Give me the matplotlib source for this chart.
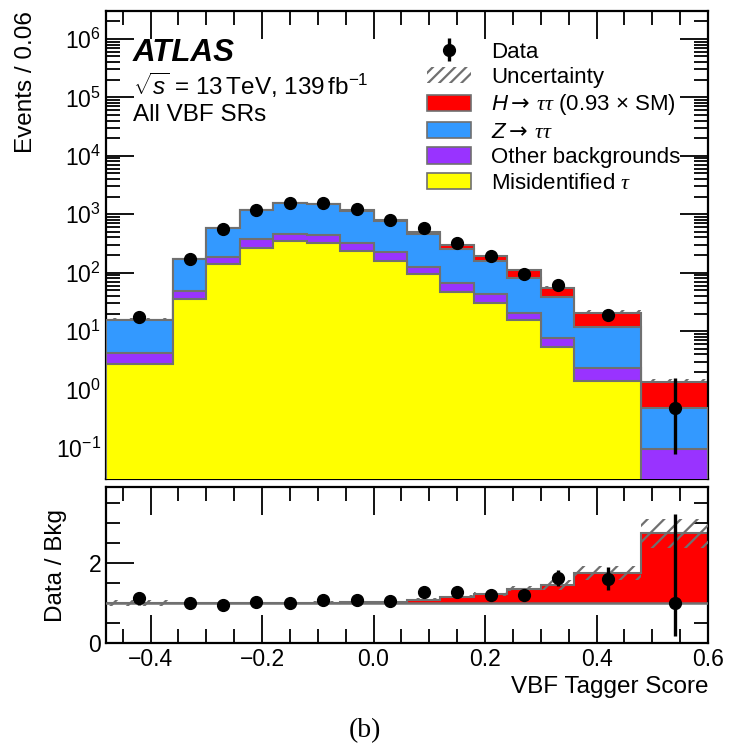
import numpy as np
import matplotlib.pyplot as plt
from matplotlib.patches import Patch
from matplotlib.ticker import MultipleLocator, LogLocator, NullFormatter

plt.rcParams['font.family'] = ['Liberation Sans', 'DejaVu Sans']
plt.rcParams['mathtext.fontset'] = 'custom'
plt.rcParams['mathtext.rm'] = 'Liberation Sans'
plt.rcParams['mathtext.it'] = 'Liberation Sans:italic'
plt.rcParams['mathtext.bf'] = 'Liberation Sans:bold'
plt.rcParams['mathtext.sf'] = 'Liberation Serif:italic'  # tau glyphs
plt.rcParams['mathtext.tt'] = 'DejaVu Sans'  # full-size arrows
plt.rcParams['hatch.linewidth'] = 1.6

# binning of the VBF tagger score
edges = np.array([-0.48, -0.36, -0.30, -0.24, -0.18, -0.12, -0.06, 0.00,
                  0.06, 0.12, 0.18, 0.24, 0.30, 0.36, 0.48, 0.60])

# per-bin yields
misid = np.array([2.69, 35, 138, 269, 346, 328, 236, 159, 94, 46.7, 30.2, 15.7, 5.3, 1.39, 0.0])
other = np.array([1.5, 13, 44, 101, 110, 109, 92, 67, 31, 21, 13.5, 4.7, 2.4, 0.93, 0.098])
ztt = np.array([11.4, 122, 403, 795, 1074, 1035, 822, 544, 335, 191.4, 115.3, 60.6, 30.6, 9.38, 0.387])
htt = np.array([0.08, 1, 3, 6, 10, 14, 15, 22, 37, 40, 35, 29, 17.2, 8.8, 0.845])
unc = np.array([0.07, 0.03, 0.03, 0.03, 0.03, 0.03, 0.03, 0.03, 0.03, 0.035, 0.04, 0.05, 0.085, 0.105, 0.13])

data = np.array([17.4, 170, 555, 1190, 1530, 1570, 1250, 810, 585, 328, 191, 96.5, 62.5, 18.8, 0.48])
data_up = np.array([2.6, 9, 15, 22, 26, 26, 23, 19, 16, 12, 9, 6.5, 7.7, 3.3, 1.08])
data_dn = np.array([2.6, 9, 15, 22, 26, 26, 23, 19, 16, 12, 9, 6.5, 7.7, 3.3, 0.40])

c_misid = '#ffff00'
c_other = '#9933ff'
c_ztt = '#3399ff'
c_htt = '#ff0000'
c_edge = '#707070'

centers = 0.5 * (edges[1:] + edges[:-1])
bkg = misid + other + ztt
total = bkg + htt

fig = plt.figure(figsize=(7.29, 7.49), dpi=100)
ax = fig.add_axes([0.1454, 0.3605, 0.9712 - 0.1454, 0.9853 - 0.3605])
rax = fig.add_axes([0.1454, 0.1415, 0.9712 - 0.1454, 0.3498 - 0.1415], sharex=ax)

floor = 1e-3
# uncertainty band sits behind the stack
ax.stairs(total * (1 + unc), edges, baseline=total * (1 - unc), fill=True,
          facecolor='white', edgecolor=c_edge, hatch='//', linewidth=0, zorder=1)
stack = [(total, c_htt), (bkg, c_ztt), (misid + other, c_other), (misid, c_misid)]
for i, (vals, col) in enumerate(stack):
    ax.stairs(np.maximum(vals, floor), edges, baseline=floor, fill=True,
              facecolor=col, edgecolor=c_edge, linewidth=1.5, zorder=2 + i)

ax.errorbar(centers, data, yerr=[data_dn, data_up], fmt='o', color='black',
            markersize=8.5, elinewidth=2.4, capsize=0, zorder=10, label='Data')

ax.set_yscale('log')
ax.set_ylim(0.0295, 3e6)
ax.set_xlim(-0.48, 0.60)
ax.yaxis.set_major_locator(LogLocator(base=10, numticks=20))
ax.yaxis.set_minor_locator(LogLocator(base=10, subs=np.arange(2, 10), numticks=20))
ax.yaxis.set_minor_formatter(NullFormatter())
ax.set_ylabel('Events / 0.06', fontsize=17.5, loc='top')
plt.setp(ax.get_xticklabels(), visible=False)

ax.text(0.045, 0.91, 'ATLAS', transform=ax.transAxes, fontsize=22.5,
        fontweight='bold', fontstyle='italic', va='center')
ax.text(0.045, 0.842, r'$\sqrt{s}$ = 13$\,$TeV, 139$\,$fb$^{-1}$', transform=ax.transAxes,
        fontsize=17.5, va='center')
ax.text(0.045, 0.778, 'All VBF SRs', transform=ax.transAxes, fontsize=17.5, va='center')

handles = [
    ax.containers[0],
    Patch(facecolor='white', edgecolor=c_edge, hatch='///', linewidth=0),
    Patch(facecolor=c_htt, edgecolor=c_edge, linewidth=1.2),
    Patch(facecolor=c_ztt, edgecolor=c_edge, linewidth=1.2),
    Patch(facecolor=c_other, edgecolor=c_edge, linewidth=1.2),
    Patch(facecolor=c_misid, edgecolor=c_edge, linewidth=1.2),
]
labels = ['Data', 'Uncertainty',
          r'$H\mathtt{\rightarrow}\,\mathsf{\tau\tau}$ (0.93 $\times$ SM)',
          r'$Z\mathtt{\rightarrow}\,\mathsf{\tau\tau}$',
          'Other backgrounds',
          r'Misidentified $\mathsf{\tau}$']
ax.legend(handles, labels, loc='upper left', bbox_to_anchor=(0.507, 0.968),
          frameon=False, fontsize=16, handlelength=2.0, handleheight=0.75,
          handletextpad=0.9, labelspacing=0.2, borderpad=0.2)

# ratio panel
rtot = total / bkg
rax.stairs(rtot, edges, baseline=1.0, fill=True, facecolor=c_htt,
           edgecolor=c_edge, linewidth=1.5, zorder=2)
rax.axhline(1.0, color=c_edge, linewidth=1.8, zorder=3)
rax.stairs(rtot * (1 + unc), edges, baseline=rtot * (1 - unc), fill=False,
           hatch='//', edgecolor=c_edge, linewidth=0, zorder=4)
rax.errorbar(centers, data / bkg, yerr=[data_dn / bkg, data_up / bkg], fmt='o',
             color='black', markersize=8.5, elinewidth=2.4, capsize=0, zorder=10)
rax.set_ylim(0, 3.9)
rax.yaxis.set_major_locator(MultipleLocator(2))
rax.yaxis.set_minor_locator(MultipleLocator(0.5))
rax.xaxis.set_major_locator(MultipleLocator(0.2))
rax.xaxis.set_minor_locator(MultipleLocator(0.05))
rax.set_ylabel('Data / Bkg', fontsize=17.5)
rax.set_xlabel('VBF Tagger Score', fontsize=17.5, loc='right')
rax.xaxis.set_major_formatter(plt.FuncFormatter(lambda v, p: f'{v:.1f}'.replace('-', '\u2212')))

for a in (ax, rax):
    a.tick_params(which='both', direction='in', top=True, right=True,
                  labelsize=16.5, width=1.3)
    a.tick_params(which='major', length=20)
    a.tick_params(which='minor', length=10)
    for s in a.spines.values():
        s.set_linewidth(1.6)

ax.yaxis.set_label_coords(-0.115, 1.0)
rax.yaxis.set_label_coords(-0.065, 0.5)

fig.text(0.5, 0.025, '(b)', ha='center', va='center', fontsize=20,
         family=['Liberation Serif', 'DejaVu Serif'])

fig.savefig('out.png', dpi=100)
